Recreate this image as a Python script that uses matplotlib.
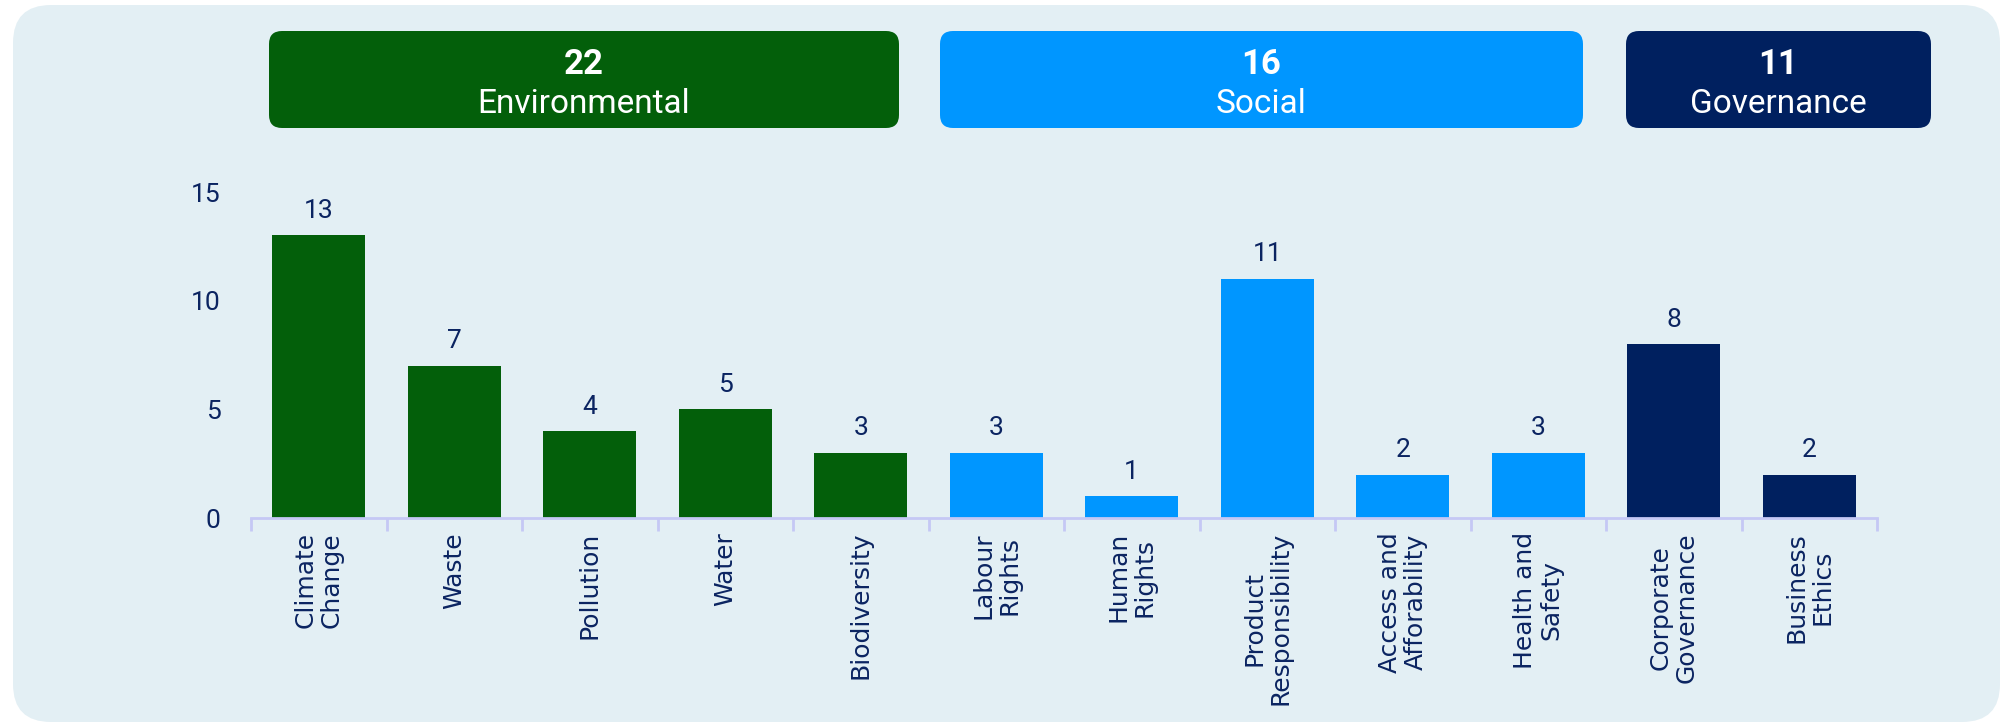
import matplotlib.pyplot as plt
from matplotlib.patches import FancyBboxPatch
from matplotlib.ticker import FixedLocator

# data
categories = ["Climate\nChange", "Waste", "Pollution", "Water", "Biodiversity",
              "Labour\nRights", "Human\nRights", "Product\nResponsibility",
              "Access and\nAfforability", "Health and\nSafety",
              "Corporate\nGovernance", "Business\nEthics"]
values = [13, 7, 4, 5, 3, 3, 1, 11, 2, 3, 8, 2]
pillar_of = ["E", "E", "E", "E", "E", "S", "S", "S", "S", "S", "G", "G"]
pillars = ["Environmental", "Social", "Governance"]
pillar_totals = [22, 16, 11]
yticks = [0, 5, 10, 15]

colors = {"E": "#035F0A", "S": "#0096FF", "G": "#00205F"}
pillar_colors = ["#035F0A", "#0096FF", "#00205F"]
navy = "#0B2461"
bg = "#E3EFF4"

W, H = 2012, 727
fig = plt.figure(figsize=(W / 100, H / 100), dpi=100)
fig.patch.set_facecolor("white")

# background layer in pixel coordinates
back = fig.add_axes([0, 0, 1, 1], zorder=0)
back.set_xlim(0, W)
back.set_ylim(H, 0)
back.axis("off")
back.add_patch(FancyBboxPatch((13, 5), 1987, 717,
                              boxstyle="round,pad=0,rounding_size=38",
                              fc=bg, ec="none"))

# header boxes (x extents in pixels)
header_x = [(269, 899), (940, 1583), (1626, 1931)]
for (x0, x1), name, tot, c in zip(header_x, pillars, pillar_totals, pillar_colors):
    back.add_patch(FancyBboxPatch((x0, 31), x1 - x0, 97,
                                  boxstyle="round,pad=0,rounding_size=13",
                                  fc=c, ec="none"))
    xc = (x0 + x1) / 2
    back.text(xc, 64, str(tot), ha="center", va="center", color="white",
              fontsize=25, fontweight="bold", family="Roboto")
    back.text(xc, 104, name, ha="center", va="center", color="white",
              fontsize=24, family="Roboto")

# main chart
ax = fig.add_axes([251 / W, 1 - 518 / H, (1877 - 251) / W, (518 - 192) / H], zorder=1)
ax.patch.set_alpha(0)
x = list(range(len(categories)))
bars = ax.bar(x, values, width=0.69, color=[colors[p] for p in pillar_of],
              zorder=2)
ax.bar_label(bars, padding=9, color=navy, fontsize=19, family="Roboto")

ax.set_xlim(-0.5, len(categories) - 0.5)
ax.set_ylim(0, 15)
ax.set_yticks(yticks)
ax.set_yticklabels([str(t) for t in yticks], family="Roboto")
ax.tick_params(axis="y", length=0, pad=22, labelsize=19, labelcolor=navy)

ax.set_xticks(x)
ax.set_xticklabels(categories, rotation=90, ha="center", va="top",
                   multialignment="center", family="DejaVu Sans",
                   linespacing=1.1)
ax.tick_params(axis="x", which="major", length=0, pad=10, labelsize=18,
               labelcolor=navy)
ax.xaxis.set_minor_locator(FixedLocator([i - 0.5 for i in range(len(categories) + 1)]))
ax.tick_params(axis="x", which="minor", length=9, width=2, color="#C5C8F5")

for s in ["top", "right", "left"]:
    ax.spines[s].set_visible(False)
ax.spines["bottom"].set_color("#C5C8F5")
ax.spines["bottom"].set_linewidth(2)
ax.spines["bottom"].set_zorder(3)

fig.savefig("out.png", dpi=100, facecolor="white")
